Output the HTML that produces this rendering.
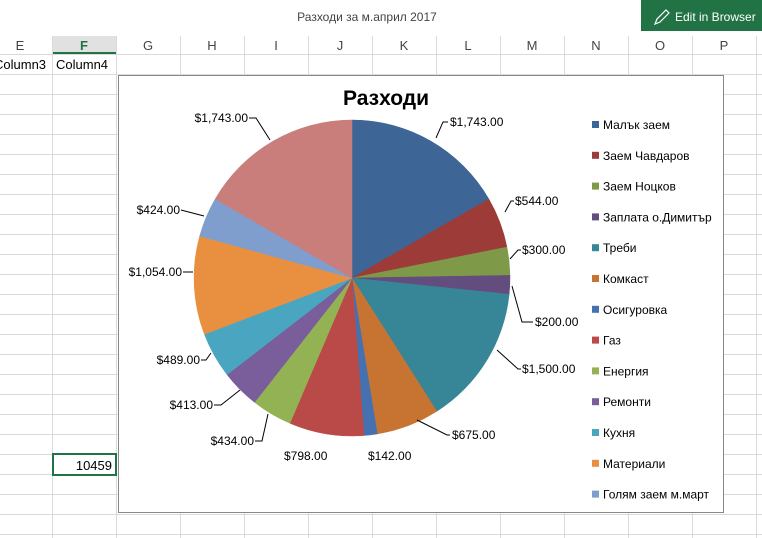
<!DOCTYPE html>
<html><head><meta charset="utf-8"><style>
body{margin:0;width:762px;height:538px;overflow:hidden;background:#fff;font-family:"Liberation Sans","Noto Sans CJK SC",sans-serif;position:relative}
</style></head><body>
<svg width="762" height="538" style="position:absolute;left:0;top:0" font-family="Liberation Sans, DejaVu Sans, sans-serif">
<text x="367" y="21" font-size="12" text-anchor="middle" fill="#444">Разходи за м.април 2017</text>
<rect x="641" y="0" width="121" height="31" fill="#217346"/>
<path d="M655 24 l2-5 9-9 3 3-9 9z" fill="none" stroke="#fff" stroke-width="1.2"/>
<text x="675" y="21" font-size="12" fill="#fff">Edit in Browser</text>
<rect x="0" y="36" width="762" height="18" fill="#fff"/>
<rect x="52" y="36" width="64" height="18" fill="#e1e1e1"/>
<line x1="52" y1="53" x2="116" y2="53" stroke="#217346" stroke-width="2"/>
<g id="grid" stroke="#dadada" stroke-width="1"></g>
<g font-size="13" fill="#444" text-anchor="middle">
<text x="20" y="50">E</text><text x="84" y="50" fill="#217346" font-weight="bold">F</text><text x="148" y="50">G</text><text x="212" y="50">H</text><text x="276" y="50">I</text><text x="340" y="50">J</text><text x="404" y="50">K</text><text x="468" y="50">L</text><text x="532" y="50">M</text><text x="596" y="50">N</text><text x="660" y="50">O</text><text x="724" y="50">P</text>
</g>
<text x="-6" y="69" font-size="13" fill="#000">Column3</text>
<text x="56" y="69" font-size="13" fill="#000">Column4</text>
<rect x="53" y="454" width="63" height="21" fill="#fff" stroke="#217346" stroke-width="2"/>
<text x="112" y="470" font-size="13" text-anchor="end">10459</text>
<rect x="118.5" y="75.5" width="605" height="437" fill="#fff" stroke="#888"/>
<text x="386" y="105" font-size="21" font-weight="bold" text-anchor="middle">Разходи</text>
<g id="pie"></g>
<g fill="none" stroke="#000" stroke-width="1">
<polyline points="436,138 443,122 448,122"/>
<polyline points="505,212 511,201 514,201"/>
<polyline points="510,259 518,250 521,250"/>
<polyline points="512,286 522,322 533,322"/>
<polyline points="497,350 518,369 521,369"/>
<polyline points="417,420 447,435 450,435"/>
<polyline points="255,441 262,441 268,414"/>
<polyline points="214,405 221,405 240,390"/>
<polyline points="201,360 206,360 211,353"/>
<polyline points="183,272 193,272"/>
<polyline points="181,210 204,216"/>
<polyline points="249,118 256,118 270,140"/>
</g>
<g font-size="12" fill="#000">
<text x="450" y="126">$1,743.00</text>
<text x="515" y="205">$544.00</text>
<text x="522" y="254">$300.00</text>
<text x="535" y="326">$200.00</text>
<text x="522" y="373">$1,500.00</text>
<text x="452" y="439">$675.00</text>
<text x="368" y="460">$142.00</text>
<text x="284" y="460">$798.00</text>
<text x="254" y="445" text-anchor="end">$434.00</text>
<text x="213" y="409" text-anchor="end">$413.00</text>
<text x="200" y="364" text-anchor="end">$489.00</text>
<text x="182" y="276" text-anchor="end">$1,054.00</text>
<text x="180" y="214" text-anchor="end">$424.00</text>
<text x="248" y="122" text-anchor="end">$1,743.00</text>
</g>
<g id="legend" font-size="12" fill="#000"></g>
</svg>
<script>
var ns="http://www.w3.org/2000/svg";
function el(p,t,a,txt){var e=document.createElementNS(ns,t);for(var k in a)e.setAttribute(k,a[k]);if(txt)e.textContent=txt;p.appendChild(e);return e;}
var g=document.getElementById('grid');
var xs=[52,116,180,244,308,372,436,500,564,628,692,756];
xs.forEach(function(x){el(g,'line',{x1:x+.5,y1:36,x2:x+.5,y2:538});});
for(var y=54;y<538;y+=20)el(g,'line',{x1:0,y1:y+.5,x2:762,y2:y+.5});
var vals=[1743,544,300,200,1500,675,142,798,434,413,489,1054,424,1743];
var cols=['#3d6596','#9c3b38','#7e9a48','#634c7e','#368697','#c77433','#4671b0','#b94a47','#93b253','#7a5e9c','#4aa5c1','#e8903f','#7f9dcd','#c97e7b'];
var p=document.getElementById('pie'),cx=352,cy=278,r=158,tot=10459,a=0;
vals.forEach(function(v,i){var a2=a+v/tot*2*Math.PI;
var x1=cx+r*Math.sin(a),y1=cy-r*Math.cos(a),x2=cx+r*Math.sin(a2),y2=cy-r*Math.cos(a2);
el(p,'path',{d:'M'+cx+' '+cy+'L'+x1+' '+y1+'A'+r+' '+r+' 0 '+((a2-a)>Math.PI?1:0)+' 1 '+x2+' '+y2+'Z',fill:cols[i],stroke:cols[i],'stroke-width':0.5});a=a2;});
var names=['Малък заем','Заем Чавдаров','Заем Ноцков','Заплата о.Димитър','Треби','Комкаст','Осигуровка','Газ','Енергия','Ремонти','Кухня','Материали','Голям заем м.март'];
var L=document.getElementById('legend');
names.forEach(function(n,i){var y=125+i*30.8;el(L,'rect',{x:592,y:y-4,width:7,height:7,fill:cols[i]});el(L,'text',{x:603,y:y+4},n);});
</script>
</body></html>
